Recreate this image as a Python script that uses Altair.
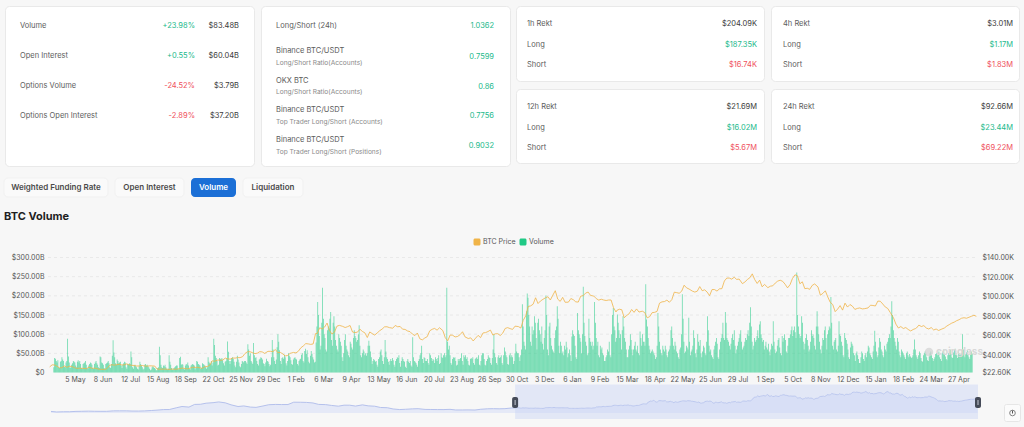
import altair as alt
import pandas as pd

# ---------------- summary cards ----------------
SUMMARY_LABELS = ["Volume", "Open Interest", "Options Volume", "Options Open Interest"]
SUMMARY_CHANGE = ["+23.98%", "+0.55%", "-24.52%", "-2.89%"]
SUMMARY_VALUE = ["$83.48B", "$60.04B", "$3.79B", "$37.20B"]

RATIO_TITLES = ["Long/Short (24h)", "Binance BTC/USDT", "OKX BTC", "Binance BTC/USDT", "Binance BTC/USDT"]
RATIO_SUBS = ["", "Long/Short Ratio(Accounts)", "Long/Short Ratio(Accounts)",
              "Top Trader Long/Short (Accounts)", "Top Trader Long/Short (Positions)"]
RATIO_VALUES = ["1.0362", "0.7599", "0.86", "0.7756", "0.9032"]

REKT_WINDOWS = ["1h Rekt", "4h Rekt", "12h Rekt", "24h Rekt"]
REKT_TOTAL = ["$204.09K", "$3.01M", "$21.69M", "$92.66M"]
REKT_LONG = ["$187.35K", "$1.17M", "$16.02M", "$23.44M"]
REKT_SHORT = ["$16.74K", "$1.83M", "$5.67M", "$69.22M"]

TABS = ["Weighted Funding Rate", "Open Interest", "Volume", "Liquidation"]
ACTIVE_TAB = "Volume"
CHART_TITLE = "BTC Volume"
LEGEND = ["BTC Price", "Volume"]

# ---------------- daily BTC volume, USD billions (one list per month) ----------------
VOLUME_START = "2023-04-09"
VOLUME_2023 = [
    [14, 38, 36, 30, 26, 32, 14, 12, 28, 30, 40, 34, 30, 15, 14, 26, 30, 88, 42, 26, 12, 14],
    [20, 24, 30, 28, 26, 18, 14, 28, 32, 26, 30, 22, 12, 10, 22, 24, 26, 30, 20, 12, 10, 18, 22, 26, 24, 20, 12, 10, 22, 26, 30],
    [24, 20, 14, 12, 42, 40, 26, 24, 20, 12, 10, 22, 24, 26, 30, 24, 14, 12, 22, 44, 84, 52, 40, 24, 20, 34, 30, 24, 26, 28],
    [18, 12, 20, 24, 28, 26, 14, 10, 22, 20, 24, 22, 55, 40, 14, 10, 18, 20, 16, 14, 10, 8, 16, 28, 22, 18, 14, 8, 10, 20, 22],
    [18, 20, 16, 14, 10, 6, 8, 14, 16, 14, 12, 10, 6, 6, 12, 14, 67, 45, 20, 14, 12, 18, 16, 20, 14, 10, 8, 10, 45, 28, 20],
    [12, 8, 8, 12, 14, 16, 18, 18, 10, 8, 38, 41, 20, 22, 20, 10, 8, 18, 22, 20, 26, 18, 10, 8, 18, 20, 22, 20, 18, 8],
    [12, 30, 28, 22, 20, 18, 10, 12, 24, 22, 20, 18, 14, 10, 14, 40, 28, 24, 22, 30, 18, 26, 88, 72, 44, 38, 30, 18, 20, 38, 36],
    [34, 38, 32, 24, 18, 28, 30, 36, 81, 54, 30, 22, 30, 38, 40, 36, 28, 18, 14, 28, 44, 34, 26, 16, 14, 22, 30, 28, 26, 30],
    [30, 26, 22, 74, 60, 44, 50, 30, 26, 22, 77, 45, 38, 40, 30, 22, 18, 34, 36, 40, 38, 34, 24, 22, 16, 26, 36, 30, 28, 22, 16],
]
VOLUME_2024 = [
    [20, 40, 85, 60, 40, 30, 22, 34, 66, 100, 80, 58, 30, 22, 38, 40, 36, 46, 40, 24, 18, 30, 50, 44, 40, 32, 22, 20, 34, 38, 40],
    [36, 34, 22, 18, 30, 34, 36, 46, 50, 30, 26, 56, 62, 48, 58, 40, 28, 24, 44, 56, 48, 40, 34, 26, 28, 78, 120, 184, 150],
    [95, 60, 70, 130, 221, 140, 100, 90, 60, 55, 110, 120, 115, 140, 158, 85, 70, 130, 147, 120, 85, 70, 60, 55, 100, 90, 80, 70, 40, 30, 50],
    [85, 100, 70, 60, 55, 45, 40, 80, 75, 65, 60, 90, 110, 95, 90, 80, 85, 100, 123, 70, 45, 40, 50, 60, 55, 45, 50, 44, 50, 70],
    [83, 70, 55, 40, 22, 30, 35, 32, 28, 30, 20, 15, 35, 40, 55, 60, 45, 30, 22, 40, 85, 55, 40, 35, 28, 20, 30, 35, 30, 38, 32],
    [20, 15, 30, 35, 40, 38, 45, 25, 15, 30, 40, 35, 30, 28, 15, 12, 30, 35, 28, 25, 30, 18, 15, 92, 40, 30, 28, 25, 20, 15],
    [30, 35, 45, 50, 70, 35, 25, 40, 38, 30, 30, 35, 25, 20, 50, 45, 38, 30, 35, 32, 25, 40, 35, 30, 38, 45, 22, 25, 50, 40, 38],
    [45, 50, 40, 45, 221, 80, 60, 70, 45, 25, 20, 35, 40, 38, 40, 30, 18, 20, 35, 30, 35, 38, 50, 30, 20, 45, 40, 45, 35, 40, 30],
    [20, 18, 35, 38, 35, 40, 25, 20, 35, 38, 40, 35, 45, 20, 18, 30, 45, 50, 50, 35, 20, 18, 30, 35, 45, 40, 38, 25, 20, 38],
    [60, 99, 50, 40, 25, 20, 40, 45, 38, 40, 45, 25, 20, 45, 65, 55, 45, 40, 22, 20, 45, 50, 40, 45, 40, 22, 30, 50, 75, 55, 50],
    [50, 40, 30, 45, 60, 178, 120, 80, 70, 60, 160, 206, 195, 150, 120, 80, 70, 120, 100, 110, 147, 130, 90, 60, 130, 140, 110, 100, 80, 120],
    [75, 60, 90, 110, 201, 150, 60, 45, 120, 130, 90, 70, 60, 55, 50, 90, 110, 120, 173, 140, 70, 50, 80, 70, 50, 55, 45, 70, 60, 80, 65],
]
VOLUME_2025 = [
    [40, 50, 60, 45, 30, 94, 110, 100, 95, 70, 40, 35, 155, 110, 100, 90, 80, 50, 100, 224, 130, 95, 80, 70, 45, 50, 140, 90, 80, 70, 80],
    [60, 70, 184, 130, 90, 70, 80, 45, 40, 70, 60, 65, 50, 45, 30, 30, 40, 45, 60, 55, 80, 45, 40, 100, 150, 168, 120, 110],
    [80, 90, 151, 130, 110, 90, 100, 60, 110, 147, 120, 90, 80, 60, 40, 40, 60, 70, 100, 85, 60, 45, 60, 70, 80, 60, 55, 70, 50, 45, 107],
    [90, 70, 100, 80, 80, 70, 230, 138, 120, 90, 70, 60, 50, 55, 60, 55, 50, 45, 35, 40, 70, 155, 120, 80, 60, 50, 45, 70, 60, 55],
    [70, 60, 45, 40, 55, 60, 70, 110, 120, 90, 70, 60, 80, 70, 55, 50, 40, 35, 60, 65, 100, 204, 140, 80, 50, 55, 70, 65, 60, 143, 80],
    [45, 55, 60, 70, 110, 90, 50, 40, 60, 100, 80, 70, 85, 50, 40, 55, 70, 65, 50, 45, 80, 147, 110, 70, 55, 60, 45, 40, 35, 60],
    [70, 80, 90, 75, 40, 35, 60, 80, 90, 100, 130, 90, 85, 158, 130, 90, 85, 80, 70, 60, 75, 90, 100, 85, 110, 70, 50, 60, 70, 80, 90],
    [100, 110, 80, 60, 65, 70, 80, 90, 85, 100, 110, 95, 130, 170, 120, 80, 60, 70, 90, 80, 85, 95, 110, 90, 125, 134, 100, 90, 80, 85, 60],
    [70, 80, 65, 60, 75, 55, 45, 60, 75, 70, 134, 80, 60, 50, 55, 70, 85, 90, 65, 50, 45, 95, 80, 90, 100, 85, 55, 50, 70, 90],
    [90, 100, 110, 120, 95, 110, 120, 105, 90, 261, 150, 120, 100, 90, 95, 147, 130, 80, 60, 75, 90, 100, 85, 70, 55, 60, 80, 110, 95, 100, 90],
    [70, 60, 120, 160, 120, 100, 80, 60, 50, 70, 90, 85, 110, 120, 90, 60, 100, 110, 120, 115, 197, 130, 70, 60, 80, 85, 90, 60, 55, 70],
    [134, 100, 95, 80, 70, 45, 40, 103, 90, 85, 75, 60, 40, 35, 65, 80, 75, 70, 50, 45, 30, 50, 55, 45, 35, 25, 25, 40, 55, 50, 35],
]
VOLUME_2026 = [
    [30, 45, 50, 40, 55, 70, 65, 50, 45, 40, 35, 55, 70, 109, 80, 55, 40, 45, 65, 90, 80, 60, 55, 45, 40, 70, 60, 55, 75, 80, 90],
    [100, 90, 120, 186, 150, 110, 90, 80, 70, 60, 90, 80, 55, 45, 40, 60, 55, 50, 45, 40, 35, 50, 55, 45, 40, 48, 42, 38],
    [40, 45, 60, 86, 60, 45, 40, 35, 45, 55, 50, 38, 30, 28, 45, 50, 55, 48, 40, 32, 30, 42, 50, 55, 45, 38, 30, 35, 40, 48, 50],
    [45, 50, 55, 40, 35, 30, 50, 55, 60, 48, 42, 35, 32, 45, 50, 55, 60, 48, 40, 38, 52, 58, 62, 50, 45, 38, 55, 50, 48, 45],
    [50, 100, 60, 45, 40, 48, 52, 58, 45, 40, 35, 50, 55, 48],
]

# ---------------- BTC price, USD thousands, every third day of each month ----------------
PRICE_2023 = [
    [28.3, 30.4, 30.3, 29.0, 27.3, 27.5, 29.3],
    [27.9, 29.0, 28.7, 27.6, 26.8, 27.0, 26.9, 26.8, 26.5, 28.1],
    [26.8, 27.1, 26.4, 25.8, 25.9, 25.6, 26.8, 29.9, 30.5, 30.1],
    [30.6, 31.0, 30.3, 30.4, 31.4, 30.3, 29.9, 29.8, 29.2, 29.3],
    [29.7, 29.2, 29.1, 29.4, 29.3, 29.2, 26.1, 26.0, 26.0, 26.1],
    [25.9, 25.8, 26.2, 25.8, 26.2, 26.6, 27.2, 26.6, 26.3, 27.0],
    [27.9, 27.8, 27.9, 27.4, 26.9, 28.5, 28.7, 29.9, 34.5, 34.1],
    [35.4, 35.0, 35.4, 37.3, 36.5, 36.2, 37.4, 37.3, 37.8, 37.8],
    [38.7, 42.0, 43.8, 43.8, 42.9, 41.9, 42.3, 43.9, 43.6, 42.1],
]
PRICE_2024 = [
    [44.2, 44.2, 43.9, 46.1, 42.9, 43.1, 41.6, 39.5, 40.0, 42.1],
    [43.1, 42.6, 44.3, 47.8, 49.7, 52.1, 51.8, 51.3, 51.7, 62.4],
    [62.4, 68.3, 67.0, 69.0, 73.1, 65.3, 61.9, 63.8, 69.9, 70.7],
    [69.7, 68.5, 69.4, 70.6, 63.9, 63.4, 63.8, 66.8, 64.5, 63.1],
    [58.3, 64.0, 62.3, 60.8, 62.9, 65.2, 66.9, 69.2, 69.3, 68.4],
    [67.8, 70.6, 69.3, 69.6, 66.8, 66.6, 65.0, 64.3, 61.8, 60.3],
    [62.9, 57.0, 55.9, 57.8, 59.2, 65.1, 66.7, 67.6, 65.8, 68.3],
    [65.4, 58.1, 55.0, 60.9, 60.6, 58.9, 59.4, 61.2, 64.2, 59.0],
    [57.3, 58.0, 54.8, 57.7, 60.5, 58.2, 63.0, 63.3, 64.4, 65.9],
    [60.8, 62.1, 62.2, 60.3, 62.8, 67.6, 68.4, 67.4, 66.6, 69.9],
    [69.5, 68.0, 75.9, 80.4, 90.0, 90.6, 92.3, 98.9, 93.0, 95.6],
    [97.3, 98.8, 99.9, 96.6, 101.5, 106.1, 97.5, 95.2, 99.3, 94.3],
]
PRICE_2025 = [
    [94.4, 98.1, 96.9, 94.7, 94.5, 100.5, 101.1, 103.7, 104.7, 101.3],
    [100.6, 98.0, 96.5, 97.4, 96.6, 96.1, 96.6, 96.6, 88.7, 84.4],
    [86.0, 87.2, 86.7, 78.5, 80.8, 82.6, 86.9, 84.0, 87.5, 84.3],
    [85.2, 83.8, 78.4, 79.6, 83.7, 84.0, 85.0, 93.4, 94.7, 95.0],
    [96.5, 94.3, 97.0, 104.6, 104.1, 103.5, 105.6, 111.7, 109.0, 107.8],
    [105.7, 104.7, 105.6, 110.3, 106.1, 107.0, 104.7, 101.0, 107.3, 107.3],
    [105.7, 108.0, 108.2, 116.0, 119.0, 119.0, 117.9, 119.9, 117.6, 118.0],
    [113.3, 115.0, 117.5, 119.3, 123.3, 117.4, 113.5, 116.9, 110.1, 112.5],
    [109.2, 110.7, 111.1, 113.9, 115.9, 116.8, 115.7, 112.7, 109.0, 112.2],
    [118.6, 122.3, 121.4, 113.2, 115.2, 108.2, 108.6, 107.5, 111.5, 113.0],
    [110.0, 101.5, 103.4, 106.0, 99.7, 94.2, 92.0, 84.7, 87.3, 90.9],
    [86.3, 93.4, 89.4, 92.0, 90.3, 87.0, 88.0, 88.5, 87.5, 87.8],
]
PRICE_2026 = [
    [88.5, 91.3, 91.0, 90.5, 95.5, 95.3, 92.5, 89.5, 88.0, 84.0],
    [78.5, 72.0, 68.0, 69.5, 67.5, 68.5, 66.5, 65.0, 66.5, 67.5],
    [68.0, 71.0, 69.5, 70.5, 68.0, 67.0, 68.5, 66.0, 67.0, 65.5],
    [67.0, 68.0, 70.0, 71.5, 73.0, 74.0, 75.5, 76.5, 78.0, 78.5],
    [78.0, 79.0, 80.0, 81.0, 80.0],
]
PRICE_FIRST_MONTH = (2023, 4)

# Earlier price history shown in the range navigator (USD thousands, 1st and 15th of each month)
NAV_HISTORY_START = (2020, 3)
NAV_HISTORY = [
    8.5, 5.4, 6.6, 6.6, 8.8, 9.3, 10.2, 9.4, 9.2, 9.2, 11.8, 11.9, 11.9, 10.8, 10.6, 11.5, 13.7, 16.0, 19.2, 19.4,
    29.4, 36.8, 33.5, 48.9, 49.6, 55.9, 58.9, 63.2, 57.8, 46.4, 36.7, 40.2, 33.6, 31.8, 39.9, 47.1, 48.8, 48.1,
    48.2, 61.5, 61.3, 60.4, 57.2, 48.9,
    47.7, 43.1, 38.7, 44.5, 44.4, 39.3, 46.3, 40.6, 38.5, 31.3, 29.8, 22.6, 19.3, 20.8, 23.3, 24.3, 20.1, 19.7,
    19.3, 19.1, 20.5, 16.9, 17.0, 17.4,
    16.6, 20.9, 23.7, 24.3, 23.6, 24.4, 28.5,
]

VOLUME_TICKS = [0, 50, 100, 150, 200, 250, 300]
PRICE_TICKS = [22600, 40000, 60000, 80000, 100000, 120000, 140000]
DATE_TICKS = [
    "2023-05-05", "2023-06-08", "2023-07-12", "2023-08-15", "2023-09-18", "2023-10-22", "2023-11-25",
    "2023-12-29", "2024-02-01", "2024-03-06", "2024-04-09", "2024-05-13", "2024-06-16", "2024-07-20",
    "2024-08-23", "2024-09-26", "2024-10-30", "2024-12-03", "2025-01-06", "2025-02-09", "2025-03-15",
    "2025-04-18", "2025-05-22", "2025-06-25", "2025-07-29", "2025-09-01", "2025-10-05", "2025-11-08",
    "2025-12-12", "2026-01-15", "2026-02-18", "2026-03-24", "2026-04-27",
]
VIEW_RANGE = ("2023-04-08", "2026-05-15")
NAV_RANGE = ("2020-03-01", "2026-05-14")
SELECTION = ("2023-04-09", "2026-05-14")

# ---------------- styling ----------------
FONT = "Inter"
BG = "#f7f7f7"
CARD_FILL = "#ffffff"
CARD_STROKE = "#e9e9e9"
LABEL = "#5c5c5c"
VALUE = "#3a3a3a"
SUB = "#8a8a8a"
GREEN = "#22b98b"
RED = "#ef4f5b"
BAR_GREEN = "#34cf90"
PRICE_ORANGE = "#f0b448"
BLUE = "#1b6fd6"


def iso(ts):
    return pd.Timestamp(ts).strftime("%Y-%m-%dT%H:%M:%S")


def dt(s):
    t = pd.Timestamp(s)
    return alt.DateTime(year=t.year, month=t.month, date=t.day)


# Build tables
vol_values = [v for year in (VOLUME_2023, VOLUME_2024, VOLUME_2025, VOLUME_2026) for month in year for v in month]
vol_dates = pd.date_range(VOLUME_START, periods=len(vol_values), freq="D")
vol_df = pd.DataFrame({"date": [iso(d) for d in vol_dates], "vol": vol_values})

price_rows = []
y, m = PRICE_FIRST_MONTH
for i, block in enumerate(PRICE_2023 + PRICE_2024 + PRICE_2025 + PRICE_2026):
    start = 28 - 3 * (len(block) - 1) if i == 0 else 1
    for j, v in enumerate(block):
        price_rows.append({"date": iso(pd.Timestamp(y, m, start + 3 * j)), "price": v * 1000})
    m += 1
    if m > 12:
        m, y = 1, y + 1
price_df = pd.DataFrame(price_rows)

nav_rows = []
for k, v in enumerate(NAV_HISTORY):
    mo = NAV_HISTORY_START[1] - 1 + k // 2
    yy = NAV_HISTORY_START[0] + mo // 12
    nav_rows.append({"date": iso(pd.Timestamp(yy, mo % 12 + 1, 1 if k % 2 == 0 else 15)), "price": v * 1000})
nav_df = pd.concat([pd.DataFrame(nav_rows), price_df], ignore_index=True)

# ---------------- layout helpers (pixel placement) ----------------
IX = dict(scale=None, axis=None)


def texts(df, size, align="left", weight="normal", color=None):
    mark = dict(align=align, baseline="middle", fontSize=size, fontWeight=weight, font=FONT)
    enc = dict(x=alt.X("px:Q", **IX), y=alt.Y("py:Q", **IX), text=alt.Text("t:N"))
    if "c" in df.columns:
        enc["color"] = alt.Color("c:N", scale=None, legend=None)
    else:
        mark["color"] = color
    return alt.Chart(df).mark_text(**mark).encode(**enc)


def boxes(df, fill, stroke=None, radius=4, opacity=1.0):
    mark = dict(fill=fill, cornerRadius=radius, opacity=opacity)
    if stroke:
        mark.update(stroke=stroke, strokeWidth=1)
    return alt.Chart(df).mark_rect(**mark).encode(
        x=alt.X("x0:Q", **IX), x2="x1:Q", y=alt.Y("y0:Q", **IX), y2="y1:Q"
    )


layers = []

# Cards
cards = pd.DataFrame({
    "x0": [5.5, 261.5, 516.5, 516.5, 771.5, 771.5],
    "x1": [254.5, 510.5, 764.5, 764.5, 1019.5, 1019.5],
    "y0": [6.5, 6.5, 6.5, 89.5, 6.5, 89.5],
    "y1": [166.5, 166.5, 81.5, 163.5, 81.5, 163.5],
})
layers.append(boxes(cards, CARD_FILL, CARD_STROKE))

# Card 1: market summary
rows_y = [26 + 30 * i for i in range(len(SUMMARY_LABELS))]
layers.append(texts(pd.DataFrame({"t": SUMMARY_LABELS, "px": 20, "py": rows_y}), 7.5, color=LABEL))
layers.append(texts(pd.DataFrame({
    "t": SUMMARY_CHANGE, "px": 195, "py": rows_y,
    "c": [GREEN if s.startswith("+") else RED for s in SUMMARY_CHANGE]}), 7.5, align="right"))
layers.append(texts(pd.DataFrame({"t": SUMMARY_VALUE, "px": 239, "py": rows_y}), 7.5, align="right", color=VALUE))

# Card 2: long/short ratios
title_y = [26] + [51 + 29.7 * (i - 1) for i in range(1, len(RATIO_TITLES))]
layers.append(texts(pd.DataFrame({"t": RATIO_TITLES, "px": 276, "py": title_y}), 7.5, color=LABEL))
layers.append(texts(pd.DataFrame({"t": RATIO_SUBS[1:], "px": 276, "py": [t + 11.5 for t in title_y[1:]]}),
                    6.6, color=SUB))
value_y = [title_y[0]] + [t + 6 for t in title_y[1:]]
layers.append(texts(pd.DataFrame({"t": RATIO_VALUES, "px": 494, "py": value_y}), 7.5, align="right", color=GREEN))

# Cards 3 & 4: liquidations
rk_lab, rk_val = [], []
for i, name in enumerate(REKT_WINDOWS):
    lx, rx = (527, 757) if i % 2 == 0 else (783, 1013)
    base = 24 if i < 2 else 107
    for r, (lab, val, col) in enumerate([(name, REKT_TOTAL[i], VALUE), ("Long", REKT_LONG[i], GREEN),
                                          ("Short", REKT_SHORT[i], RED)]):
        yy = base + 20.7 * r
        rk_lab.append({"t": lab, "px": lx, "py": yy})
        rk_val.append({"t": val, "px": rx, "py": yy, "c": col})
layers.append(texts(pd.DataFrame(rk_lab), 7.5, color=LABEL))
layers.append(texts(pd.DataFrame(rk_val), 7.5, align="right"))

# Tabs
tab_edges = [(4, 108), (115, 184), (191, 236), (243, 303)]
tab_df = pd.DataFrame({
    "x0": [a for a, b in tab_edges], "x1": [b for a, b in tab_edges],
    "y0": 178, "y1": 197, "t": TABS,
    "px": [(a + b) / 2 for a, b in tab_edges], "py": 187.5,
    "active": [t == ACTIVE_TAB for t in TABS],
})
layers.append(boxes(tab_df[~tab_df.active], "#fafafa", "#f1f1f1"))
layers.append(boxes(tab_df[tab_df.active], BLUE))
layers.append(texts(tab_df[~tab_df.active][["t", "px", "py"]], 8, align="center", weight=600, color="#4a4a4a"))
layers.append(texts(tab_df[tab_df.active][["t", "px", "py"]], 8, align="center", weight=600, color="#ffffff"))

# Section title
layers.append(texts(pd.DataFrame({"t": [CHART_TITLE], "px": [4], "py": [217]}), 11, weight="bold", color="#1f1f1f"))

# Legend
leg_x = [477, 523]
leg_df = pd.DataFrame({"x0": [x - 3.5 for x in leg_x], "x1": [x + 3.5 for x in leg_x], "y0": 238.5, "y1": 245.5,
                       "c": [PRICE_ORANGE, "#20c985"]})
layers.append(alt.Chart(leg_df).mark_rect(cornerRadius=1.5).encode(
    x=alt.X("x0:Q", **IX), x2="x1:Q", y=alt.Y("y0:Q", **IX), y2="y1:Q",
    color=alt.Color("c:N", scale=None, legend=None)))
layers.append(texts(pd.DataFrame({"t": LEGEND, "px": [x + 6 for x in leg_x], "py": 242}), 7, color="#555555"))

# ---------------- main chart ----------------
PLOT_L, PLOT_R, PLOT_T, PLOT_B = 48, 978, 257.5, 372.5
W, H = 1024, 427

x_scale = alt.Scale(domain=[dt(VIEW_RANGE[0]), dt(VIEW_RANGE[1])], range=[PLOT_L, PLOT_R])
vol_scale = alt.Scale(domain=[VOLUME_TICKS[0], VOLUME_TICKS[-1]], range=[PLOT_B, PLOT_T], nice=False)
price_scale = alt.Scale(domain=[PRICE_TICKS[0], PRICE_TICKS[-1]], range=[PLOT_B, PLOT_T], nice=False, zero=False)

grid = alt.Chart(pd.DataFrame({"v": VOLUME_TICKS[1:]})).mark_rule(
    color="#e4e4e4", strokeDash=[3, 3], strokeWidth=0.8
).encode(y=alt.Y("v:Q", scale=vol_scale, axis=None), x=alt.value(PLOT_L), x2=alt.value(PLOT_R))
layers.append(grid)

axis_common = dict(labelFont=FONT, labelFontSize=7, labelColor="#555555", domain=False, ticks=False,
                   grid=False, title=None)
bars = alt.Chart(vol_df).mark_bar(width=0.8, color=BAR_GREEN, opacity=0.72).encode(
    x=alt.X("date:T", scale=x_scale,
            axis=alt.Axis(values=[dt(d) for d in DATE_TICKS], format="%-d %b", orient="bottom",
                          offset=-(H - PLOT_B), labelPadding=3, labelOverlap=False, **axis_common)),
    y=alt.Y("vol:Q", scale=vol_scale,
            axis=alt.Axis(values=VOLUME_TICKS, orient="left", offset=-(PLOT_L - 1), labelPadding=3,
                          labelExpr="datum.value == 0 ? '$0' : '$' + format(datum.value, '.2f') + 'B'",
                          **axis_common)),
)
layers.append(bars)

price_line = alt.Chart(price_df).mark_line(color=PRICE_ORANGE, strokeWidth=1, opacity=0.8).encode(
    x=alt.X("date:T", scale=x_scale, axis=None),
    y=alt.Y("price:Q", scale=price_scale,
            axis=alt.Axis(values=PRICE_TICKS, orient="right", offset=-(W - PLOT_R - 1), labelPadding=3,
                          labelExpr="'$' + format(datum.value / 1000, '.2f') + 'K'", **axis_common)),
)
layers.append(price_line)

# Watermark
layers.append(alt.Chart(pd.DataFrame({"a": [0]})).mark_point(
    shape="circle", filled=True, size=70, color="#d2d2d2", opacity=0.7
).encode(x=alt.value(929), y=alt.value(352)))
layers.append(texts(pd.DataFrame({"t": ["coinglass"], "px": [936], "py": [352]}), 10, weight="bold",
                    color="#d8d8d8"))

# ---------------- range navigator ----------------
NAV_L, NAV_R, NAV_T, NAV_B = 51, 978, 384.5, 419
nav_x = alt.Scale(domain=[dt(NAV_RANGE[0]), dt(NAV_RANGE[1])], range=[NAV_L, NAV_R])
nav_y = alt.Scale(domain=[-35000, 126000], range=[NAV_B, 391], nice=False, zero=False)

layers.append(alt.Chart(nav_df).mark_area(color="#e5e9f7", opacity=1).encode(
    x=alt.X("date:T", scale=nav_x, axis=None),
    y=alt.Y("price:Q", scale=nav_y, axis=None), y2=alt.value(NAV_B)))
layers.append(alt.Chart(nav_df).mark_line(color="#b5c1ec", strokeWidth=1).encode(
    x=alt.X("date:T", scale=nav_x, axis=None),
    y=alt.Y("price:Q", scale=nav_y, axis=None)))

sel_df = pd.DataFrame({"start": [iso(SELECTION[0])], "end": [iso(SELECTION[1])]})
layers.append(alt.Chart(sel_df).mark_rect(color="#c7d2f4", opacity=0.45).encode(
    x=alt.X("start:T", scale=nav_x, axis=None), x2="end:T",
    y=alt.value(NAV_T), y2=alt.value(NAV_B)))

handles = pd.DataFrame({"d": [iso(SELECTION[0]), iso(SELECTION[1])]})
layers.append(alt.Chart(handles).mark_rect(color="#454b58", cornerRadius=2, xOffset=-3, x2Offset=3).encode(
    x=alt.X("d:T", scale=nav_x, axis=None), x2="d:T",
    y=alt.value(397), y2=alt.value(408)))
layers.append(alt.Chart(handles).mark_rule(color="#c8ccd6", strokeWidth=1).encode(
    x=alt.X("d:T", scale=nav_x, axis=None), y=alt.value(400), y2=alt.value(405)))

# Small reset button at the bottom right
layers.append(boxes(pd.DataFrame({"x0": [1004.5], "x1": [1020.5], "y0": [404.5], "y1": [421.5]}),
                    "#fbfbfb", "#e6e6e6", radius=2))
layers.append(alt.Chart(pd.DataFrame({"a": [0]})).mark_point(
    shape="circle", size=32, color="#555555", strokeWidth=1
).encode(x=alt.value(1012.5), y=alt.value(413)))
layers.append(alt.Chart(pd.DataFrame({"a": [0]})).mark_rule(color="#555555", strokeWidth=1).encode(
    x=alt.value(1012.5), y=alt.value(410.5), y2=alt.value(413.5)))

chart = alt.layer(*layers).resolve_scale(
    x="independent", y="independent", color="independent"
).properties(
    width=W, height=H, padding=0, autosize=alt.AutoSizeParams(type="none")
).configure(background=BG).configure_view(stroke=None)

chart.save("out.html", embed_options={"renderer": "svg", "actions": False})
